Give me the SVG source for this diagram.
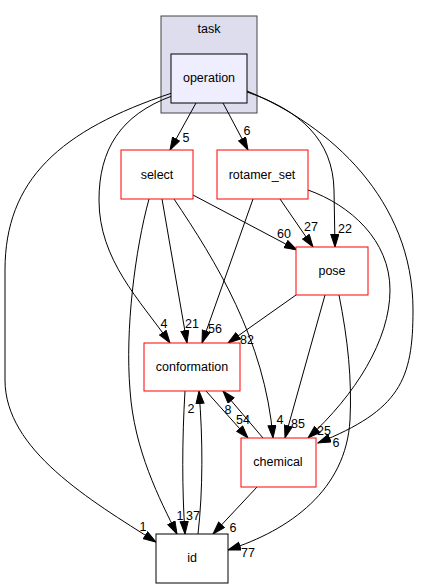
<svg xmlns="http://www.w3.org/2000/svg" width="421" height="588" viewBox="0 0 421 588">
<style>
text{font-family:"Liberation Sans",Arial,sans-serif;font-size:12.5px;fill:#000}
.n{text-anchor:middle}
.l{text-anchor:middle}
.e{fill:none;stroke:#000;stroke-width:1;marker-end:url(#a)}
.r{fill:#fff;stroke:#ff0000;stroke-width:1}
</style>
<defs>
<marker id="a" markerUnits="userSpaceOnUse" markerWidth="14" markerHeight="10" refX="13" refY="4.5" orient="auto"><path d="M0.5,0.5 L13,4.5 L0.5,8.5 z" fill="#000" stroke="#000" stroke-width="1"/></marker>
</defs>
<rect width="421" height="588" fill="#fff"/>
<g id="cluster_task">
<rect x="161" y="16" width="96" height="97" fill="#ddddee" stroke="#444" stroke-width="1"/>
<text class="n" x="209" y="33">task</text>
</g>
<g id="edges">
<path class="e" d="M196,103 L170,150"/>
<path class="e" d="M223,103 L248,150"/>
<path class="e" d="M172,96 C120,115 99,150 99,200 C99,260 140,300 170,343"/>
<path class="e" d="M172,93 C60,130 5,180 5,270 L5,380 C5,450 90,500 156,542"/>
<path class="e" d="M247,92 C300,110 333,140 334,190 L335,247"/>
<path class="e" d="M247,91 C330,125 413,200 413,310 C413,380 400,410 318,443"/>
<path class="e" d="M193,195 L297,250"/>
<path class="e" d="M162,199 L187,343"/>
<path class="e" d="M174,199 C215,260 265,340 273,438"/>
<path class="e" d="M149,199 C135,250 125,330 130,390 C134,450 160,500 177,534"/>
<path class="e" d="M185,391 C182,440 182,490 185,534"/>
<path class="e" d="M198,534 C203,490 203,440 199,391"/>
<path class="e" d="M206,391 L248,438"/>
<path class="e" d="M263,438 L223,391"/>
<path class="e" d="M280,199 L313,247"/>
<path class="e" d="M253,199 L202,343"/>
<path class="e" d="M308,190 C350,205 390,240 390,290 C390,340 355,395 308,438"/>
<path class="e" d="M296,295 L228,343"/>
<path class="e" d="M325,295 L285,438"/>
<path class="e" d="M339,295 C348,340 352,380 350,420 C346,490 290,530 228,550"/>
<path class="e" d="M257,487 L213,534"/>
<text class="l" x="186" y="142">5</text>
<text class="l" x="247" y="135">6</text>
<text class="l" x="164" y="328">4</text>
<text class="l" x="143" y="531">1</text>
<text class="l" x="345" y="233">22</text>
<text class="l" x="336" y="447">6</text>
<text class="l" x="284" y="238">60</text>
<text class="l" x="192" y="328">21</text>
<text class="l" x="280" y="424">4</text>
<text class="l" x="180" y="520">1</text>
<text class="l" x="193" y="520">37</text>
<text class="l" x="191" y="413">2</text>
<text class="l" x="243" y="424">54</text>
<text class="l" x="228" y="414">8</text>
<text class="l" x="311" y="231">27</text>
<text class="l" x="215" y="333">56</text>
<text class="l" x="324" y="435">25</text>
<text class="l" x="247" y="344">82</text>
<text class="l" x="298" y="428">85</text>
<text class="l" x="248" y="557">77</text>
<text class="l" x="233" y="532">6</text>
</g>
<g id="operation">
<rect x="171" y="54" width="76" height="49" fill="#eeeeff" stroke="#000" stroke-width="1"/>
<text class="n" x="209" y="82">operation</text>
</g>
<g id="select">
<rect class="r" x="121" y="150" width="72" height="49"/>
<text class="n" x="157" y="179">select</text>
</g>
<g id="rotamer_set">
<rect class="r" x="217" y="150" width="91" height="49"/>
<text class="n" x="262" y="179">rotamer_set</text>
</g>
<g id="pose">
<rect class="r" x="296" y="247" width="72" height="48"/>
<text class="n" x="332" y="275">pose</text>
</g>
<g id="conformation">
<rect class="r" x="144" y="343" width="96" height="48"/>
<text class="n" x="192" y="371">conformation</text>
</g>
<g id="chemical">
<rect class="r" x="241" y="438" width="75" height="49"/>
<text class="n" x="278" y="466">chemical</text>
</g>
<g id="id">
<rect x="156" y="534" width="72" height="49" fill="#fff" stroke="#000" stroke-width="1"/>
<text class="n" x="192" y="562">id</text>
</g>
</svg>
